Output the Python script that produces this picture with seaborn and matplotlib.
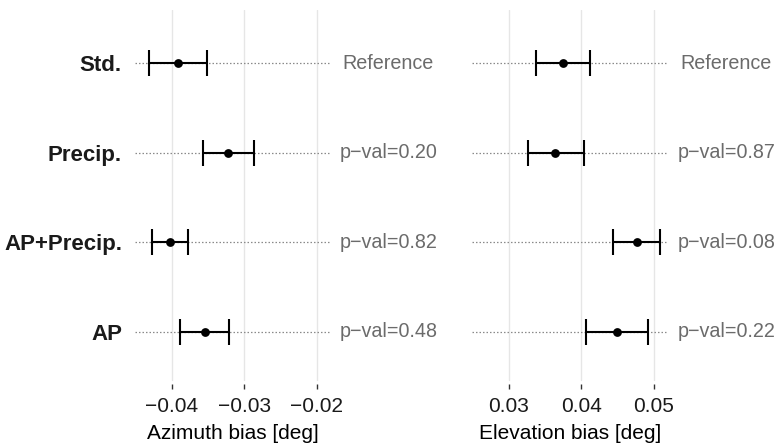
import matplotlib
matplotlib.use("Agg")
import matplotlib.pyplot as plt
import seaborn as sns
import pandas as pd
import numpy as np

# Model variants (top to bottom)
models = ["Std.", "Precip.", "AP+Precip.", "AP"]
pval_labels = ["Reference", "p\u2212val=0.20", "p\u2212val=0.82", "p\u2212val=0.48"]
pval_labels_el = ["Reference", "p\u2212val=0.87", "p\u2212val=0.08", "p\u2212val=0.22"]

# Azimuth bias estimates with lower / upper interval bounds
az_est = [-0.0391, -0.0322, -0.0403, -0.0354]
az_lo = [-0.0432, -0.0357, -0.0427, -0.0388]
az_hi = [-0.0351, -0.0286, -0.0377, -0.0321]

# Elevation bias estimates with lower / upper interval bounds
el_est = [0.0375, 0.0363, 0.0476, 0.0449]
el_lo = [0.0337, 0.0326, 0.0443, 0.0406]
el_hi = [0.0412, 0.0403, 0.0508, 0.0492]

az_ticks = [-0.04, -0.03, -0.02]
el_ticks = [0.03, 0.04, 0.05]

sns.set_theme(style="whitegrid")
plt.rcParams["font.family"] = ["Liberation Sans", "DejaVu Sans"]

fig = plt.figure(figsize=(7.78, 4.47), dpi=100)
W, H = 778, 447
top_px, bot_px = 10, 384
ax_h = bot_px - top_px
ax_az = fig.add_axes([135 / W, 1 - bot_px / H, 195 / W, ax_h / H])
ax_el = fig.add_axes([472.3 / W, 1 - bot_px / H, 195.4 / W, ax_h / H])


def draw_panel(ax, est, lo, hi, labels, xlim, ticks, xlabel, show_names):
    df = pd.DataFrame({"model": models, "pos": np.arange(len(models)),
                       "est": est, "lo": lo, "hi": hi, "label": labels})
    ax.set_xlim(*xlim)
    ax.set_ylim(3.585, -0.596)
    # vertical grid lines, stopping a little above the tick marks
    ax.grid(False)
    for t in ticks:
        ax.axvline(t, ymin=4 / ax_h, ymax=1, color="#e6e6e6", lw=1.0, zorder=0)
    # dotted guide line across each row
    for p in df["pos"]:
        ax.plot(xlim, [p, p], color="#8a8a8a", lw=0.9, ls=(0, (1.2, 1.6)), zorder=1)
    ax.errorbar(df["est"], df["pos"],
                xerr=[df["est"] - df["lo"], df["hi"] - df["est"]],
                fmt="none", ecolor="black", elinewidth=1.5, capsize=9.5,
                capthick=1.5, zorder=3)
    sns.scatterplot(data=df, x="est", y="pos", ax=ax, color="black",
                    s=40, edgecolor="black", linewidth=0, zorder=4, legend=False)
    for p, t in zip(df["pos"], df["label"]):
        ax.annotate(t, xy=(1.3, p), xycoords=("axes fraction", "data"),
                    ha="center", va="center", fontsize=14.2, color="#6b6b6b",
                    annotation_clip=False)
    ax.set_xticks(ticks)
    ax.set_xticklabels([f"{t:.2f}".replace("-", "\u2212") for t in ticks])
    ax.set_yticks(df["pos"])
    if show_names:
        ax.set_yticklabels(models, fontweight="bold", fontsize=16, color="#1a1a1a")
    else:
        ax.set_yticklabels([])
    for s in ax.spines.values():
        s.set_visible(False)
    ax.tick_params(axis="x", which="both", bottom=True, direction="out",
                   length=3.6, width=1.0, color="#333333", labelsize=15,
                   labelcolor="#1a1a1a", pad=6)
    ax.tick_params(axis="y", left=False, length=0, pad=9.4)
    ax.set_xlabel(xlabel, fontsize=15, color="black", labelpad=5.6)
    ax.set_ylabel("")
    ax.set_facecolor("white")


draw_panel(ax_az, az_est, az_lo, az_hi, pval_labels, (-0.04507, -0.01814),
           az_ticks, "Azimuth bias [deg]", True)
draw_panel(ax_el, el_est, el_lo, el_hi, pval_labels_el, (0.02494, 0.05189),
           el_ticks, "Elevation bias [deg]", False)

fig.savefig("out.png", dpi=100, facecolor="white")
